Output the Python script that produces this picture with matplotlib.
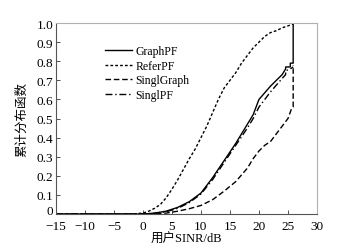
import matplotlib
matplotlib.use("Agg")
import matplotlib.pyplot as plt
from matplotlib.transforms import ScaledTranslation

plt.rcParams['font.family'] = ['Liberation Serif', 'Noto Sans CJK SC']
plt.rcParams['axes.unicode_minus'] = True

# ReferPF (dotted)
x_refer = [-15, -2, 0, 1, 2, 3, 4, 5, 6, 7, 8, 9, 10, 11, 12, 13, 14, 15, 16, 17, 18, 19, 20, 21, 22, 23, 24, 25, 25.9, 25.9]
y_refer = [0, 0, 0.005, 0.015, 0.03, 0.05, 0.085, 0.13, 0.18, 0.235, 0.29, 0.34, 0.4, 0.46, 0.53, 0.6, 0.66, 0.7, 0.74, 0.79, 0.83, 0.87, 0.9, 0.93, 0.95, 0.96, 0.975, 0.985, 0.995, 1.0]

# GraphPF (solid)
x_graph = [-15, 0, 2, 4, 6, 8, 10, 12, 14, 16, 18, 19, 19.5, 20, 22, 24, 24.6, 24.6, 25.4, 25.4, 25.9, 25.9]
y_graph = [0, 0, 0.005, 0.015, 0.035, 0.065, 0.11, 0.19, 0.28, 0.37, 0.47, 0.52, 0.56, 0.6, 0.67, 0.73, 0.76, 0.77, 0.77, 0.79, 0.79, 1.0]

# SinglGraph (dashed)
x_sgraph = [-15, 2, 4, 6, 8, 10, 12, 14, 16, 18, 19, 20, 21, 22, 23, 24, 25, 25.6, 25.9, 25.9]
y_sgraph = [0, 0, 0.005, 0.015, 0.028, 0.045, 0.075, 0.12, 0.17, 0.24, 0.29, 0.33, 0.36, 0.38, 0.42, 0.46, 0.5, 0.55, 0.56, 0.78]

# SinglPF (dash-dot)
x_spf = [-15, 0, 2, 4, 6, 8, 10, 12, 14, 16, 18, 19, 20, 22, 24, 24.6, 24.6, 25.4, 25.9]
y_spf = [0, 0, 0.004, 0.012, 0.03, 0.06, 0.105, 0.18, 0.27, 0.36, 0.45, 0.5, 0.56, 0.64, 0.71, 0.73, 0.75, 0.76, 0.77]

fig = plt.figure(figsize=(3.61, 2.53), dpi=100)
ax = fig.add_axes([0.155, 0.150, 0.723, 0.755])

ax.plot(x_graph, y_graph, color='black', lw=1.0, ls='-', label='GraphPF')
ax.plot(x_refer, y_refer, color='black', lw=1.0, ls=(0, (2, 1.5)), label='ReferPF')
ax.plot(x_sgraph, y_sgraph, color='black', lw=1.0, ls=(0, (4, 2)), label='SinglGraph')
ax.plot(x_spf, y_spf, color='black', lw=1.0, ls=(0, (5, 2, 1, 2)), label='SinglPF')

ax.set_xlim(-15, 30)
ax.set_ylim(0, 1.0)
ax.set_xticks(range(-15, 31, 5))
yt = [i / 10 for i in range(11)]
ax.set_yticks(yt)
ax.set_yticklabels(['0'] + ['%.1f' % v for v in yt[1:]])
ax.tick_params(direction='in', length=3, width=0.6, labelsize=9.5, color='#333333')
ax.tick_params(axis='x', pad=4)
ax.tick_params(axis='y', pad=2)

# nudge the "0" label up a little so it clears the "-15"
lab0 = ax.yaxis.get_major_ticks()[0].label1
lab0.set_transform(lab0.get_transform() + ScaledTranslation(0, 3 / 72, fig.dpi_scale_trans))

for s in ['top', 'right']:
    ax.spines[s].set_color('#b0b0b0')
for s in ['left', 'bottom']:
    ax.spines[s].set_color('#555555')
for s in ax.spines.values():
    s.set_linewidth(0.8)

ax.set_xlabel('用户SINR/dB', fontsize=9, labelpad=1)
ax.set_ylabel('累计分布函数', fontsize=9, labelpad=6)

ax.legend(loc='upper left', bbox_to_anchor=(0.165, 0.915), frameon=False, fontsize=8.5,
          handlelength=2.3, handletextpad=0.3, labelspacing=0.22, borderpad=0)

fig.savefig('out.png', dpi=100)
